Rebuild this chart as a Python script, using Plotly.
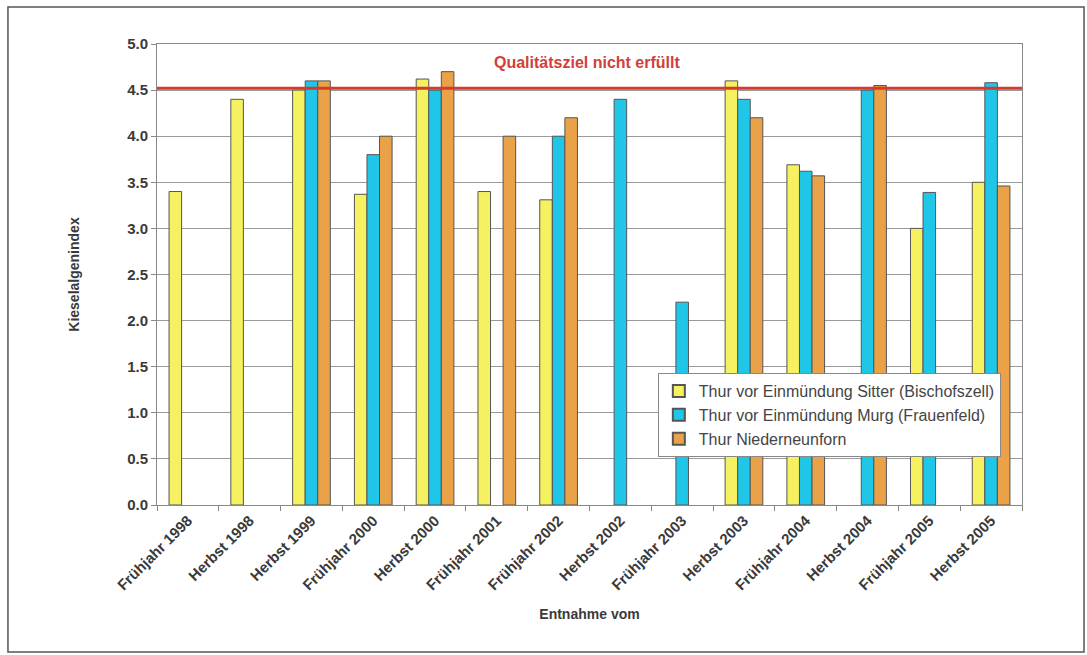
import plotly.graph_objects as go

# Sampling dates
categories = [
    "Frühjahr 1998", "Herbst 1998", "Herbst 1999", "Frühjahr 2000", "Herbst 2000",
    "Frühjahr 2001", "Frühjahr 2002", "Herbst 2002", "Frühjahr 2003", "Herbst 2003",
    "Frühjahr 2004", "Herbst 2004", "Frühjahr 2005", "Herbst 2005",
]

# Diatom index per site (None = no sample)
bischofszell = [3.40, 4.40, 4.50, 3.37, 4.62, 3.40, 3.31, None, None, 4.60, 3.69, None, 3.00, 3.50]
frauenfeld = [None, None, 4.60, 3.80, 4.50, None, 4.00, 4.40, 2.20, 4.40, 3.62, 4.50, 3.39, 4.58]
niederneunforn = [None, None, 4.60, 4.00, 4.70, 4.00, 4.20, None, None, 4.20, 3.57, 4.55, None, 3.46]

series_names = [
    "Thur vor Einmündung Sitter (Bischofszell)",
    "Thur vor Einmündung Murg (Frauenfeld)",
    "Thur Niederneunforn",
]
series_colors = ["#f6f160", "#1fc6e8", "#e9a247"]

quality_target = 4.52
target_label = "Qualitätsziel nicht erfüllt"

font_family = "Liberation Sans"
text_color = "#3a3a3a"

fig = go.Figure()
for name, vals, col in zip(series_names, [bischofszell, frauenfeld, niederneunforn], series_colors):
    fig.add_trace(go.Bar(
        x=categories, y=vals, name=name,
        marker=dict(color=col, line=dict(color="#555555", width=1)),
    ))

# Quality target threshold line
fig.add_shape(type="line", xref="paper", yref="y", x0=0, x1=1,
              y0=quality_target, y1=quality_target,
              line=dict(color="#d63a2c", width=3), layer="above")
fig.add_annotation(text=target_label, xref="paper", yref="y", x=0.497, y=4.80,
                   showarrow=False,
                   font=dict(family=font_family, size=16, color="#d2403a", weight="bold"))

# Outer frame around the whole chart
fig.add_shape(type="rect", xref="paper", yref="paper",
              x0=-0.1723, x1=1.0717, y0=-0.3189, y1=1.0803,
              line=dict(color="#555555", width=1.5), layer="below")

fig.update_layout(
    width=1087, height=655,
    margin=dict(l=157, r=65, t=44, b=150),
    paper_bgcolor="white", plot_bgcolor="white",
    barmode="group", bargap=0.39, bargroupgap=0,
    font=dict(family=font_family, color=text_color),
    showlegend=True,
    legend=dict(
        x=0.579, y=0.286, xanchor="left", yanchor="top",
        bgcolor="white", bordercolor="#888888", borderwidth=1,
        font=dict(family=font_family, size=16, color="#444444"),
        itemsizing="constant", tracegroupgap=0,
    ),
    xaxis=dict(
        tickangle=-45,
        tickfont=dict(family=font_family, size=15, color=text_color, weight="bold"),
        ticks="outside", ticklen=5, tickcolor="#888888",
        tickson="boundaries",
        showline=True, linecolor="#888888", linewidth=1, mirror=True,
        showgrid=False,
        title=dict(text="Entnahme vom", standoff=16,
                   font=dict(family=font_family, size=14, color=text_color, weight="bold")),
    ),
    yaxis=dict(
        range=[0, 5], dtick=0.5, tickformat=".1f",
        tickfont=dict(family=font_family, size=15, color=text_color, weight="bold"),
        ticks="outside", ticklen=5, tickcolor="#888888",
        showline=True, linecolor="#888888", linewidth=1, mirror=True,
        showgrid=True, gridcolor="#9a9a9a", gridwidth=1,
        zeroline=False,
        title=dict(text="Kieselalgenindex", standoff=44,
                   font=dict(family=font_family, size=14, color=text_color, weight="bold")),
    ),
)

fig.write_html("out.html")
